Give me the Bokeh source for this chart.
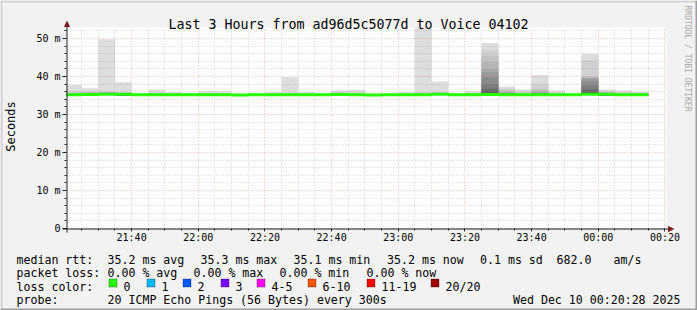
import math
from bokeh.plotting import figure
from bokeh.models import (Range1d, FixedTicker, Label, BoxAnnotation, Arrow,
                          NormalHead)
from bokeh.embed import file_html
from bokeh.resources import INLINE

# ---------------- data ----------------
title_text = "Last 3 Hours from ad96d5c5077d to Voice 04102"
x_tick_minutes = [40, 60, 80, 100, 120, 140, 160, 180, 200]   # minutes after 21:00
x_tick_labels = ["21:40", "22:00", "22:20", "22:40", "23:00",
                 "23:20", "23:40", "00:00", "00:20"]
y_tick_values = [0, 10, 20, 30, 40, 50]
y_tick_labels = ["0", "10 m", "20 m", "30 m", "40 m", "50 m"]

window_start_min = 20 + 28 / 60      # 21:20:28
window_end_min = 200 + 28 / 60       # 00:20:28
first_bin_min = 20                   # 21:20
step_min = 5                         # 300 s

median_ms = [35.2, 35.25, 35.34, 35.3, 35.2, 35.2, 35.2, 35.2, 35.2, 35.2,
             35.1, 35.2, 35.2, 35.2, 35.2, 35.2, 35.25, 35.2, 35.12, 35.2,
             35.2, 35.2, 35.3, 35.2, 35.2, 35.25, 35.2, 35.2, 35.2, 35.2,
             35.2, 35.34, 35.3, 35.2, 35.2]

ping_min_ms = [35.0, 35.0, 35.1, 35.0, 35.0, 35.0, 34.9, 35.0, 35.0, 35.0,
               34.9, 35.0, 35.0, 35.0, 35.0, 34.9, 35.0, 35.0, 34.9, 35.0,
               35.0, 35.0, 35.1, 35.0, 35.0, 35.0, 35.0, 35.0, 35.0, 35.0,
               34.9, 35.1, 35.0, 35.0, 35.0]

# upper half of the 20 sorted pings per 5-min bin (20th .. 11th)
ping_high_ms = [
    [37.8, 36.2, 35.8, 35.6, 35.5, 35.4, 35.4, 35.3, 35.3, 35.3],
    [36.9, 36.2, 35.9, 35.7, 35.5, 35.4, 35.4, 35.3, 35.3, 35.3],
    [49.8, 36.1, 35.9, 35.8, 35.7, 35.6, 35.5, 35.5, 35.4, 35.4],
    [38.5, 35.8, 35.7, 35.6, 35.5, 35.5, 35.4, 35.4, 35.4, 35.4],
    [35.5, 35.4, 35.4, 35.3, 35.3, 35.3, 35.3, 35.3, 35.2, 35.2],
    [36.6, 35.7, 35.5, 35.4, 35.4, 35.3, 35.3, 35.3, 35.3, 35.2],
    [35.9, 35.5, 35.4, 35.4, 35.3, 35.3, 35.3, 35.3, 35.2, 35.2],
    [35.7, 35.5, 35.4, 35.4, 35.3, 35.3, 35.3, 35.2, 35.2, 35.2],
    [36.1, 35.6, 35.5, 35.4, 35.4, 35.3, 35.3, 35.3, 35.2, 35.2],
    [36.1, 35.6, 35.5, 35.4, 35.3, 35.3, 35.3, 35.3, 35.2, 35.2],
    [35.5, 35.4, 35.4, 35.3, 35.3, 35.3, 35.3, 35.2, 35.2, 35.2],
    [35.5, 35.4, 35.3, 35.3, 35.3, 35.3, 35.2, 35.2, 35.2, 35.2],
    [35.9, 35.5, 35.4, 35.4, 35.3, 35.3, 35.3, 35.3, 35.2, 35.2],
    [39.8, 35.7, 35.5, 35.4, 35.4, 35.3, 35.3, 35.3, 35.3, 35.2],
    [35.9, 35.5, 35.4, 35.4, 35.3, 35.3, 35.3, 35.2, 35.2, 35.2],
    [35.5, 35.4, 35.4, 35.3, 35.3, 35.3, 35.2, 35.2, 35.2, 35.2],
    [36.3, 36.0, 35.7, 35.5, 35.4, 35.4, 35.3, 35.3, 35.3, 35.2],
    [36.5, 35.8, 35.5, 35.4, 35.4, 35.3, 35.3, 35.3, 35.2, 35.2],
    [35.5, 35.4, 35.3, 35.3, 35.3, 35.3, 35.2, 35.2, 35.2, 35.2],
    [35.5, 35.4, 35.4, 35.3, 35.3, 35.3, 35.3, 35.2, 35.2, 35.2],
    [35.9, 35.5, 35.4, 35.4, 35.3, 35.3, 35.3, 35.2, 35.2, 35.2],
    [53.6, 35.9, 35.6, 35.5, 35.4, 35.4, 35.3, 35.3, 35.3, 35.2],
    [38.7, 35.9, 35.7, 35.6, 35.5, 35.5, 35.4, 35.4, 35.4, 35.4],
    [35.5, 35.4, 35.4, 35.3, 35.3, 35.3, 35.3, 35.2, 35.2, 35.2],
    [36.1, 35.7, 35.5, 35.4, 35.4, 35.3, 35.3, 35.3, 35.2, 35.2],
    [48.8, 46.9, 45.5, 43.8, 42.0, 41.1, 39.8, 38.1, 36.8, 36.0],
    [37.4, 36.8, 36.5, 36.1, 35.8, 35.6, 35.5, 35.5, 35.4, 35.4],
    [36.6, 36.1, 35.7, 35.5, 35.4, 35.4, 35.3, 35.3, 35.3, 35.2],
    [40.3, 38.1, 36.8, 36.3, 35.9, 35.7, 35.6, 35.5, 35.4, 35.4],
    [36.3, 35.8, 35.6, 35.4, 35.4, 35.3, 35.3, 35.3, 35.2, 35.2],
    [35.5, 35.4, 35.4, 35.3, 35.3, 35.3, 35.3, 35.2, 35.2, 35.2],
    [46.0, 44.3, 40.0, 39.8, 39.6, 39.4, 38.7, 37.6, 36.6, 35.9],
    [36.6, 36.2, 35.9, 35.7, 35.6, 35.5, 35.5, 35.4, 35.4, 35.4],
    [36.3, 35.9, 35.6, 35.5, 35.4, 35.4, 35.3, 35.3, 35.3, 35.2],
    [36.0, 35.8, 35.6, 35.5, 35.4, 35.3, 35.3, 35.3, 35.2, 35.2],
]
smoke_colors = ["#dddddd", "#d0d0d0", "#c3c3c3", "#b6b6b6", "#a8a8a8",
                "#9a9a9a", "#8b8b8b", "#7c7c7c", "#6c6c6c", "#5c5c5c"]

loss_labels = ["0", "1", "2", "3", "4-5", "6-10", "11-19", "20/20"]
loss_colors = ["#26ff00", "#00b8ff", "#0059ff", "#7e00ff", "#ff00ff",
               "#ff5500", "#ff0000", "#a00000"]

legend_line1 = ["median rtt:", "35.2 ms avg", "35.3 ms max", "35.1 ms min",
                "35.2 ms now", "0.1 ms sd", "682.0", "am/s"]
legend_line2 = ["packet loss:", "0.00 % avg", "0.00 % max", "0.00 % min",
                "0.00 % now"]
legend_line4 = ["probe:", "20 ICMP Echo Pings (56 Bytes) every 300s"]
stamp_text = "Wed Dec 10 00:20:28 2025"
watermark_text = "RRDTOOL / TOBI OETIKER"

# ---------------- layout helpers (pixel -> data) ----------------
W, H = 697, 310
FL, FT, FB = 66, 27, 228           # plot area (rrdtool canvas) in pixels
FW = 600
MIN_PER_PX = (window_end_min - window_start_min) / FW
PX_PER_MS = 3.8
y_top = (FB - FT) / PX_PER_MS


def X(px):
    return window_start_min + (px - FL) * MIN_PER_PX


def Y(py):
    return (FB - py) / PX_PER_MS


MONO = "DejaVu Sans Mono"

# the Bokeh frame covers the whole image; the rrdtool plot area sits inside it
p = figure(width=W, height=H, output_backend="svg", toolbar_location=None,
           tools="", title=None,
           x_range=Range1d(X(0), X(W)), y_range=Range1d(Y(H), Y(0)),
           min_border=0, min_border_left=0, min_border_right=0,
           min_border_top=0, min_border_bottom=0,
           background_fill_color="#f2f2f2", border_fill_color="#f2f2f2",
           outline_line_color=None)

# white plot canvas
p.quad(left=[window_start_min], right=[window_end_min], bottom=[0], top=[y_top],
       fill_color="#ffffff", line_color=None, level="image")

# ---------------- smoke ----------------
L, R, B, T, C = [], [], [], [], []
for layer in range(10):
    for i, hi in enumerate(ping_high_ms):
        t0 = first_bin_min + i * step_min
        L.append(max(t0, window_start_min))
        R.append(min(t0 + step_min, window_end_min))
        B.append(ping_min_ms[i])
        T.append(min(hi[layer], y_top))
        C.append(smoke_colors[layer])
p.quad(left=L, right=R, bottom=B, top=T, fill_color=C, line_color=None,
       level="image")

# ---------------- median line ----------------
xs = [max(first_bin_min + i * step_min, window_start_min) for i in range(len(median_ms))]
xs.append(first_bin_min + len(median_ms) * step_min)
ys = list(median_ms) + [median_ms[-1]]
p.step(x=xs, y=ys, mode="after", line_color=loss_colors[0], line_width=3)

# ---------------- axes & grid ----------------
minor_x = [m for m in range(25, 200, 5) if m % 20 != 0]
minor_y = [v for v in range(2, 53, 2) if v % 10 != 0]
p.xaxis.ticker = FixedTicker(ticks=x_tick_minutes, minor_ticks=minor_x)
p.yaxis.ticker = FixedTicker(ticks=y_tick_values, minor_ticks=minor_y)
p.xaxis.major_label_overrides = dict(zip(x_tick_minutes, x_tick_labels))
p.yaxis.major_label_overrides = dict(zip(y_tick_values, y_tick_labels))
p.xaxis.fixed_location = 0
p.yaxis.fixed_location = window_start_min
p.xaxis.bounds = (window_start_min, window_end_min)
p.yaxis.bounds = (0, y_top)

for ax in (p.xaxis[0], p.yaxis[0]):
    ax.axis_line_color = None
    ax.major_tick_line_color = "#1f1f1f"
    ax.minor_tick_line_color = "#1f1f1f"
    ax.major_tick_in = 0
    ax.major_tick_out = 4
    ax.minor_tick_in = 0
    ax.minor_tick_out = 2
    ax.major_label_text_font = MONO
    ax.major_label_text_font_size = "10px"
    ax.major_label_text_color = "#000000"
p.xaxis.major_tick_out = 3
p.xaxis.major_label_standoff = 0
p.yaxis.major_label_standoff = 2

p.xgrid.ticker = p.xaxis[0].ticker
p.ygrid.ticker = p.yaxis[0].ticker
p.xgrid.bounds = (window_start_min, window_end_min)
p.xgrid.cross_bounds = (0, y_top)
p.ygrid.bounds = (0, y_top)
p.ygrid.cross_bounds = (window_start_min, window_end_min)
for g in (p.xgrid[0], p.ygrid[0]):
    g.grid_line_color = "#de4f4f"
    g.grid_line_alpha = 0.42
    g.grid_line_dash = "1 2"
    g.minor_grid_line_color = "#8f8f8f"
    g.minor_grid_line_alpha = 0.4
    g.minor_grid_line_dash = "1 2"

# axis lines with arrows
p.add_layout(Arrow(x_start=X(62), y_start=Y(228.5), x_end=X(673), y_end=Y(228.5),
                   line_color="#1f1f1f", line_width=1,
                   end=NormalHead(size=5, fill_color="#801f1f", line_color="#801f1f")))
p.add_layout(Arrow(x_start=X(66.5), y_start=Y(232), x_end=X(66.5), y_end=Y(21),
                   line_color="#1f1f1f", line_width=1,
                   end=NormalHead(size=5, fill_color="#801f1f", line_color="#801f1f")))

# ---------------- 3D border ----------------
for (l, r, t, b, c) in [(0, W, 0, 2, "#cfcfcf"), (0, 2, 0, H, "#cfcfcf"),
                        (0, W, H - 2, H, "#9e9e9e"), (W - 2, W, 0, H, "#9e9e9e")]:
    p.add_layout(BoxAnnotation(left=X(l), right=X(r), top=Y(t), bottom=Y(b),
                               fill_color=c, fill_alpha=1, line_color=None))


# ---------------- texts ----------------
def lab(text, px, py, size="11.6px", align="left", baseline="alphabetic",
        color="#000000", angle=0):
    p.add_layout(Label(x=X(px), y=Y(py), text=text, text_font=MONO,
                       text_font_size=size, text_align=align,
                       text_baseline=baseline, text_color=color, angle=angle))


lab(title_text, 348, 24, size="13.3px", align="center")
lab("Seconds", 10, 126, size="12px", align="center", baseline="middle",
    angle=math.pi / 2)
lab(watermark_text, 686.5, 5, size="8px", align="left", baseline="middle",
    color="#a8a8a8", angle=-math.pi / 2)

line1_x = [16, 107, 200, 293, 386.5, 479.5, 556, 613]
for t, x in zip(legend_line1, line1_x):
    lab(t, x, 259)
line2_x = [16, 107, 193, 279, 366]
for t, x in zip(legend_line2, line2_x):
    lab(t, x, 272.5)
lab("loss color:", 16, 286)
box_x = [108, 145.5, 182.5, 219.5, 256.5, 307, 365.5, 430.5]
for t, c, bx in zip(loss_labels, loss_colors, box_x):
    bx = round(bx) + 0.5
    p.add_layout(BoxAnnotation(left=X(bx), right=X(bx + 8), top=Y(278.5),
                               bottom=Y(286.5), fill_color=c, fill_alpha=1,
                               line_color="#000000", line_width=1))
    lab(t, bx + 14.5, 286)
lab(legend_line4[0], 16, 299.5)
lab(legend_line4[1], 107, 299.5)
lab(stamp_text, 680, 299.5, align="right")

open("out.html", "w").write(file_html(p, INLINE))
